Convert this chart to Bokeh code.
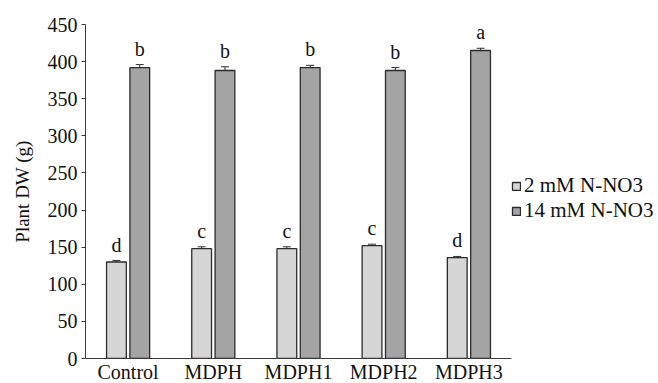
from bokeh.plotting import figure
from bokeh.models import (ColumnDataSource, FactorRange, Range1d, Whisker, LabelSet,
                          Legend, LegendItem, FixedTicker)
from bokeh.transform import dodge
from bokeh.embed import file_html
from bokeh.resources import INLINE

categories = ["Control", "MDPH", "MDPH1", "MDPH2", "MDPH3"]
low_n = [130, 148, 148, 152, 136]
low_err = [2, 2.5, 2.5, 2, 1.5]
high_n = [392, 388, 392, 388, 415]
high_err = [4, 5, 3, 4, 3]
low_letters = ["d", "c", "c", "c", "d"]
high_letters = ["b", "b", "b", "b", "a"]
series_names = ["2 mM N-NO3", "14 mM N-NO3"]
y_ticks = [0, 50, 100, 150, 200, 250, 300, 350, 400, 450]

FONT = "Liberation Serif"
LIGHT = "#d6d6d6"
DARK = "#a4a4a4"
EDGE = "#2b2b2b"

src = ColumnDataSource(dict(
    cat=categories,
    low=low_n, low_up=[v + e for v, e in zip(low_n, low_err)],
    low_dn=[v - e for v, e in zip(low_n, low_err)],
    high=high_n, high_up=[v + e for v, e in zip(high_n, high_err)],
    high_dn=[v - e for v, e in zip(high_n, high_err)],
    low_lab=low_letters, high_lab=high_letters,
))

p = figure(frame_width=426, frame_height=334,
           x_range=FactorRange(*categories, range_padding=0),
           y_range=Range1d(0, 450), output_backend="svg", toolbar_location=None,
           min_border_left=85, min_border_right=0, min_border_top=24, min_border_bottom=0)
p.outline_line_color = None
p.grid.visible = False
p.background_fill_color = "white"
p.border_fill_color = "white"

off = 0.137
bw = 0.232
r1 = p.vbar(x=dodge("cat", -off, range=p.x_range), top="low", width=bw, source=src,
            fill_color=LIGHT, line_color=EDGE, line_width=1.3)
r2 = p.vbar(x=dodge("cat", off, range=p.x_range), top="high", width=bw, source=src,
            fill_color=DARK, line_color=EDGE, line_width=1.3)

for base, up, dn in [(dodge("cat", -off, range=p.x_range), "low_up", "low_dn"),
                     (dodge("cat", off, range=p.x_range), "high_up", "high_dn")]:
    w = Whisker(base=base, upper=up, lower=dn, source=src, line_color="#333333", line_width=1)
    w.upper_head.size = 8
    w.lower_head.size = 8
    w.upper_head.line_color = "#333333"
    w.lower_head.line_color = "#333333"
    p.add_layout(w)

for xx, yy, lab in [(dodge("cat", -off, range=p.x_range), "low_up", "low_lab"),
                    (dodge("cat", off, range=p.x_range), "high_up", "high_lab")]:
    ls = LabelSet(x=xx, y=yy, text=lab, source=src, y_offset=9, text_align="center",
                  text_baseline="alphabetic", text_font=FONT, text_font_size="20px",
                  text_color="#111111")
    p.add_layout(ls)

p.yaxis.ticker = FixedTicker(ticks=y_ticks)
p.yaxis.minor_tick_line_color = None
p.yaxis.major_tick_out = 4
p.yaxis.major_tick_in = 0
p.yaxis.major_label_standoff = 4
p.yaxis.axis_label = "Plant DW (g)"
p.yaxis.axis_label_standoff = 12
p.yaxis.axis_label_text_font = FONT
p.yaxis.axis_label_text_font_style = "normal"
p.yaxis.axis_label_text_font_size = "19px"
p.yaxis.axis_label_text_color = "#111111"

p.xaxis.major_tick_line_color = None
p.xaxis.minor_tick_line_color = None
p.xaxis.major_tick_out = 0
p.xaxis.major_tick_in = 0
p.xaxis.major_label_standoff = 2

for ax in (p.xaxis, p.yaxis):
    ax.axis_line_color = "#3a3a3a"
    ax.axis_line_width = 1
    ax.major_label_text_font = FONT
    ax.major_label_text_font_size = "20px"
    ax.major_label_text_color = "#111111"
p.yaxis.major_tick_line_color = "#3a3a3a"

legend = Legend(items=[LegendItem(label=series_names[0], renderers=[r1]),
                       LegendItem(label=series_names[1], renderers=[r2])],
                location=(0, 135), glyph_width=10, glyph_height=10,
                label_standoff=3, spacing=0, padding=0, margin=0,
                border_line_color=None, background_fill_alpha=0,
                label_text_font=FONT, label_text_font_size="21px",
                label_text_color="#111111", label_height=23)
p.add_layout(legend, "right")

open("out.html", "w").write(file_html(p, INLINE))
